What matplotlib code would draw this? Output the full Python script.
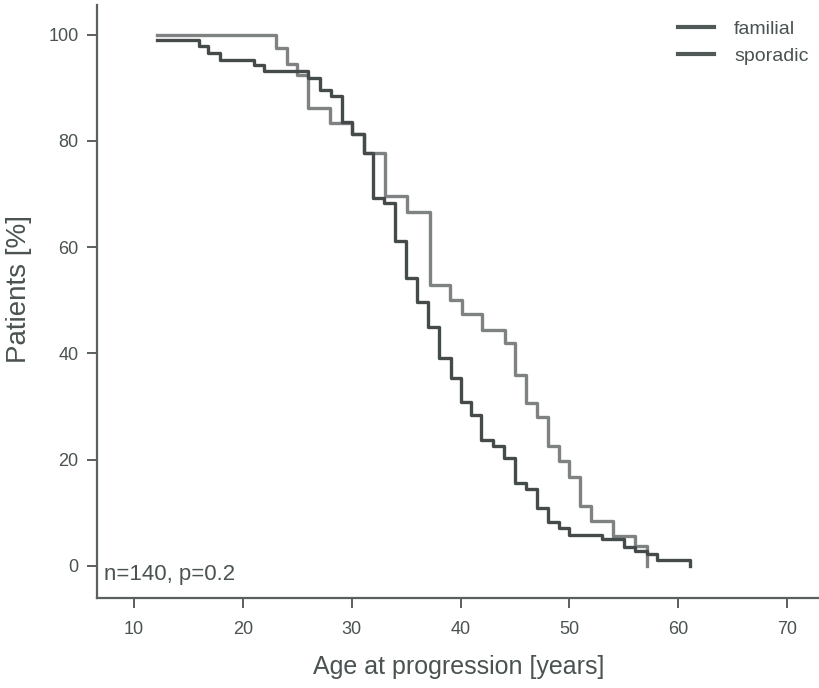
import matplotlib.pyplot as plt

plt.rcParams["font.family"] = ["Liberation Sans", "DejaVu Sans"]

# Kaplan-Meier style steps: age at which the curve drops, and the new level (%)
familial_age = [12.1, 23.1, 24.1, 25.0, 26.0, 28.0, 30.0, 31.1, 33.1, 35.1,
                37.2, 39.0, 40.1, 42.0, 44.1, 45.0, 46.0, 47.0, 48.0, 49.0,
                50.0, 51.0, 52.0, 54.0, 56.0, 57.1]
familial_pct = [100.0, 97.5, 94.5, 92.4, 86.1, 83.4, 81.2, 77.7, 69.6, 66.7,
                52.9, 50.1, 47.4, 44.5, 41.9, 36.0, 30.7, 28.0, 22.5, 19.8,
                16.8, 11.2, 8.5, 5.7, 3.7, 0.0]

sporadic_age = [12.1, 16.0, 16.8, 17.9, 21.0, 22.0, 26.0, 27.1, 28.1, 29.1,
                30.0, 31.1, 32.0, 33.0, 34.0, 35.0, 36.0, 37.0, 38.0, 39.1,
                40.0, 41.0, 41.9, 43.0, 44.0, 45.0, 46.0, 47.0, 48.0, 49.0,
                50.0, 53.0, 55.0, 56.0, 57.1, 58.0, 61.1]
sporadic_pct = [99.0, 97.8, 96.5, 95.3, 94.2, 93.1, 91.8, 89.6, 88.4, 83.6,
                81.2, 77.7, 69.3, 68.3, 61.2, 54.2, 49.6, 44.9, 39.1, 35.4,
                30.8, 28.4, 23.7, 22.5, 20.3, 15.6, 14.4, 10.9, 8.3, 7.2,
                5.8, 5.0, 3.5, 2.9, 2.2, 1.2, 0.0]

x_ticks = [10, 20, 30, 40, 50, 60, 70]
y_ticks = [0, 20, 40, 60, 80, 100]

text_color = "#4a5252"
axis_color = "#5a5f5f"

figure = plt.figure(figsize=(8.2, 6.88), dpi=100)
axis = figure.add_axes([0.118, 0.131, 0.882, 0.862])

axis.step(familial_age, familial_pct, where="post", color="#7e8282",
          linewidth=2.4, label="familial")
axis.step(sporadic_age, sporadic_pct, where="post", color="#454b4b",
          linewidth=2.4, label="sporadic")

axis.set_xlim(6.6, 73.0)
axis.set_ylim(-6.0, 105.6)
axis.set_xticks(x_ticks)
axis.set_yticks(y_ticks)

for side in ["top", "right"]:
    axis.spines[side].set_visible(False)
for side in ["left", "bottom"]:
    axis.spines[side].set_color(axis_color)
    axis.spines[side].set_linewidth(1.6)

axis.tick_params(axis="both", colors=axis_color, length=7, width=1.4,
                 labelsize=13, labelcolor=text_color, pad=6)
axis.tick_params(axis="x", pad=10)

axis.set_xlabel("Age at progression [years]", fontsize=18, color=text_color,
                labelpad=12)
axis.set_ylabel("Patients [%]", fontsize=20, color=text_color)
axis.yaxis.set_label_coords(-0.089, 0.52)

axis.text(7.3, -1.6, "n=140, p=0.2", fontsize=16, color=text_color,
          va="center", ha="left")

legend = axis.legend(loc="upper right", bbox_to_anchor=(1.008, 1.004),
                     frameon=False, fontsize=14, handlelength=1.9,
                     handletextpad=1.0, labelspacing=0.5)
for handle in legend.get_lines():
    handle.set_color("#505858")
    handle.set_linewidth(3)
for text in legend.get_texts():
    text.set_color(text_color)

figure.savefig("out.png", dpi=100)
plt.close(figure)
